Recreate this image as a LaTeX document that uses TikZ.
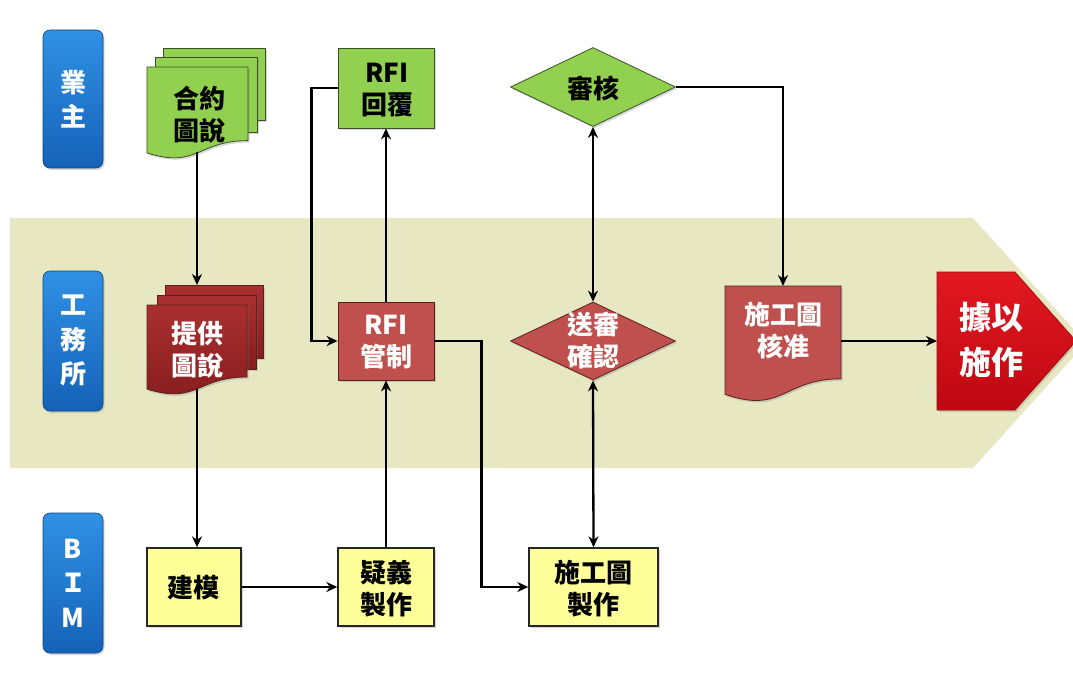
\documentclass[tikz,border=0pt]{standalone}
\usepackage{fontspec}
\newfontfamily\cjk{Noto Sans CJK TC}
\usetikzlibrary{arrows.meta,shapes.geometric,shadows}

\definecolor{bandfill}{RGB}{231,232,194}
\definecolor{laneA}{RGB}{48,145,228}
\definecolor{laneB}{RGB}{20,98,184}
\definecolor{leaf}{RGB}{146,208,80}
\definecolor{leafedge}{RGB}{60,80,40}
\definecolor{brick}{RGB}{192,80,77}
\definecolor{brickedge}{RGB}{90,30,30}
\definecolor{wineA}{RGB}{170,48,48}
\definecolor{wineB}{RGB}{135,28,30}
\definecolor{alertA}{RGB}{226,24,32}
\definecolor{alertB}{RGB}{190,8,18}
\definecolor{memo}{RGB}{255,255,153}

% document outline with a wavy lower edge: left, top, width, height, style
\newcommand\docshape[5]{%
  \draw[#5] (#1,#2) -- ({#1+#3},#2) -- ({#1+#3},{#2+0.80*#4})
    .. controls ({#1+0.5*#3},{#2+0.80*#4}) and ({#1+0.5*#3},{#2+1.107*#4})
    .. (#1,{#2+0.934*#4}) -- cycle;}

\tikzset{
  shade/.style={drop shadow={opacity=0.3,shadow xshift=1.5pt,shadow yshift=-2pt}},
  txt/.style={font=\cjk\bfseries\fontsize{26}{32}\selectfont,align=center,inner sep=0pt},
  lanebox/.style={rounded corners=7pt,minimum width=60pt,top color=laneA,bottom color=laneB,
    draw=laneB!70!black,line width=0.6pt,shade,text=white,
    font=\cjk\bfseries\fontsize{26}{34.5}\selectfont,align=center,inner sep=0pt},
  leafbox/.style={draw=leafedge,line width=0.8pt,fill=leaf,shade},
  brickbox/.style={draw=brickedge,line width=0.8pt,fill=brick,shade},
  winepage/.style={draw=brickedge,line width=0.8pt,top color=wineA,bottom color=wineB,shade},
  memobox/.style={draw=black!85,line width=1.4pt,fill=memo,shade},
  hook/.style={inner sep=0pt,outer sep=0pt,draw=none,fill=none,shape=rectangle},
  conn/.style={line width=2.3pt,-{Stealth[length=11pt,width=10pt]}},
  twoway/.style={line width=2.3pt,{Stealth[length=11pt,width=10pt]}-{Stealth[length=11pt,width=10pt]}},
}

\begin{document}
\begin{tikzpicture}[x=1pt,y=-1pt]
\useasboundingbox (0,0) rectangle (1073,679);
\clip (0,0) rectangle (1073,679);
\fill[white] (0,0) rectangle (1073,679);

% central lane band
\fill[bandfill] (10,218) -- (973,218) -- (1086,343) -- (973,468) -- (10,468) -- cycle;

% lane labels
\node[lanebox,minimum height=138pt] (owner) at (73,99) {業\\主};
\node[lanebox,minimum height=140pt] (office) at (73,341) {工\\務\\所};
\node[lanebox,minimum height=140pt] (bimlane) at (73,583) {B\\Ｉ\\M};

% contract drawings (stacked documents)
\draw[leafbox] (163,48) rectangle (265,120);
\draw[leafbox] (155,57) rectangle (257,132);
\docshape{147}{67}{101}{92}{leafbox}
\node[hook,minimum width=101pt,minimum height=85pt] (contract) at (197,109.5) {};
\node[txt] (contract-t) at (199,115) {合約\\圖說};

% issued drawings (stacked documents)
\node[winepage,hook,draw=brickedge,minimum width=98pt,minimum height=73pt] (supplyback) at (214,321.5) {};
\draw[winepage] (157,295) rectangle (256,369);
\docshape{147}{305}{100}{90}{winepage}
\node[hook,minimum width=100pt,minimum height=84pt] (supply) at (197,347) {};
\node[txt,text=white] (supply-t) at (197,350) {提供\\圖說};

% RFI reply and RFI control
\node[leafbox,minimum width=96pt,minimum height=80pt] (rfir) at (386,88) {};
\node[txt] (rfir-t) at (387,90) {RFI\\回覆};
\node[brickbox,minimum width=96pt,minimum height=78pt] (rfic) at (386,341) {};
\node[txt,text=white] (rfic-t) at (386,342) {RFI\\管制};

% review diamonds
\node[diamond,leafbox,minimum width=165pt,minimum height=79pt,inner sep=0pt] (rev) at (593,87) {};
\node[txt] (rev-t) at (593,88) {審核};
\node[diamond,brickbox,minimum width=165pt,minimum height=78pt,inner sep=0pt] (confirm) at (593,341) {};
\node[txt,text=white] (confirm-t) at (593,341) {送審\\確認};

% approved shop drawing
\docshape{725}{286}{116}{116}{brickbox}
\node[hook,minimum width=116pt,minimum height=110pt] (apprv) at (783,341) {};
\node[txt,text=white] (apprv-t) at (783,331) {施工圖\\核准};

% build accordingly (pentagon arrow)
\path[top color=alertA,bottom color=alertB,draw=alertB!80!black,line width=0.6pt,shade]
  (937,272) -- (1015,272) -- (1076,341) -- (1015,410) -- (937,410) -- cycle;
\node[hook,minimum width=78pt,minimum height=138pt] (build) at (976,341) {};
\node[txt,text=white,font=\cjk\bfseries\fontsize{32}{45}\selectfont] (build-t) at (991,340) {據以\\施作};

% BIM tasks
\node[memobox,minimum width=94pt,minimum height=78pt] (model) at (194,587) {};
\node[txt] (model-t) at (193,588) {建模};
\node[memobox,minimum width=96pt,minimum height=78pt] (query) at (386,587) {};
\node[txt] (query-t) at (386,589) {疑義\\製作};
\node[memobox,minimum width=129pt,minimum height=78pt] (shop) at (593.5,587) {};
\node[txt] (shop-t) at (593.5,589) {施工圖\\製作};

% connectors
\draw[conn] (contract.south) -- (contract.south |- supplyback.north);
\draw[conn] (supply.south) -- (supply.south |- model.north);
\draw[conn] (model.east) -- (query.west);
\draw[conn] (query.north) -- (rfic.south);
\draw[conn] (rfic.north) -- (rfir.south);
\draw[conn] (rfir.west) -- ++(-26,0) |- (rfic.west);
\draw[conn] (rfic.east) -- ++(47,0) |- (shop.west);
\draw[twoway] (rev.south) -- (confirm.north);
\draw[twoway] (confirm.south) -- (shop.north);
\draw[conn] (rev.east) -| (apprv.north);
\draw[conn] (apprv.east) -- (build.west);
\end{tikzpicture}
\end{document}
